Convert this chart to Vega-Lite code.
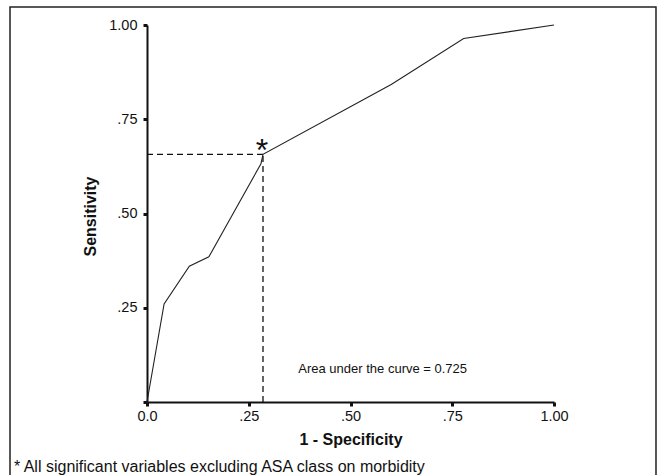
{
  "$schema": "https://vega.github.io/schema/vega-lite/v6.json",
  "width": 407,
  "height": 377,
  "autosize": {"type": "none"},
  "padding": {"left": 147, "top": 25, "right": 105, "bottom": 73},
  "background": "white",
  "config": {
    "view": {"stroke": null},
    "font": "Liberation Sans",
    "axis": {
      "grid": false,
      "domainColor": "#111111",
      "domainWidth": 2,
      "tickColor": "#111111",
      "tickWidth": 3,
      "tickSize": 4,
      "labelColor": "#111111",
      "labelFont": "Liberation Sans",
      "labelFontSize": 14.5,
      "labelFlush": false,
      "labelOverlap": false,
      "titleColor": "#111111",
      "titleFont": "Liberation Sans",
      "titleFontSize": 16,
      "titleFontWeight": "bold"
    }
  },
  "datasets": {
    "roc": [
      {"x": 0, "y": 0},
      {"x": 0.042, "y": 0.26},
      {"x": 0.104, "y": 0.36},
      {"x": 0.152, "y": 0.385},
      {"x": 0.28, "y": 0.632},
      {"x": 0.285, "y": 0.657},
      {"x": 0.6, "y": 0.842},
      {"x": 0.778, "y": 0.964},
      {"x": 1, "y": 1}
    ],
    "cutoff": [
      {"x": 0, "x2": 0.285, "y": 0.657, "y2": 0.657},
      {"x": 0.285, "x2": 0.285, "y": 0, "y2": 0.657}
    ],
    "star": [{"x": 0.285, "y": 0.657, "label": "*"}],
    "frame": [{"x": -0.3366, "x2": 1.2506, "y": -0.25, "y2": 1.0477}],
    "notes": [
      {"x": 0.3717, "y": 0.077, "label": "Area under the curve = 0.725"}
    ],
    "footnote": [
      {"x": -0.327, "y": -0.1857, "label": "* All significant variables excluding ASA class on morbidity"}
    ]
  },
  "layer": [
    {
      "data": {"name": "frame"},
      "mark": {"type": "rect", "fill": null, "stroke": "#222222", "strokeWidth": 1.5},
      "encoding": {
        "x": {"field": "x", "type": "quantitative", "scale": {"domain": [0, 1], "nice": false, "zero": false},
          "axis": {"title": "1 - Specificity", "values": [0, 0.25, 0.5, 0.75, 1],
            "labelExpr": "datum.value == 0 ? '0.0' : (datum.value == 1 ? '1.00' : replace(format(datum.value, '.2f'), '0.', '.'))",
            "labelPadding": 3, "titleBaseline": "alphabetic", "titleY": 42, "titleX": 203.5, "titleAlign": "center"}},
        "x2": {"field": "x2"},
        "y": {"field": "y", "type": "quantitative", "scale": {"domain": [0, 1], "nice": false, "zero": false},
          "axis": {"title": "Sensitivity", "values": [0, 0.25, 0.5, 0.75, 1],
            "labelExpr": "datum.value == 0 ? '' : (datum.value == 1 ? '1.00' : replace(format(datum.value, '.2f'), '0.', '.'))",
            "labelPadding": 6, "titleBaseline": "alphabetic", "titleAngle": -90, "titleX": -52, "titleY": 191, "titleAlign": "center"}},
        "y2": {"field": "y2"}
      }
    },
    {
      "data": {"name": "cutoff"},
      "mark": {"type": "rule", "stroke": "#111111", "strokeWidth": 1.3, "strokeDash": [6, 4]},
      "encoding": {
        "x": {"field": "x", "type": "quantitative"},
        "x2": {"field": "x2"},
        "y": {"field": "y", "type": "quantitative"},
        "y2": {"field": "y2"}
      }
    },
    {
      "data": {"name": "roc"},
      "mark": {"type": "line", "stroke": "#222222", "strokeWidth": 1.1},
      "encoding": {
        "x": {"field": "x", "type": "quantitative"},
        "y": {"field": "y", "type": "quantitative"}
      }
    },
    {
      "data": {"name": "star"},
      "mark": {"type": "text", "fontSize": 32, "font": "Liberation Sans", "align": "center", "baseline": "alphabetic", "dy": 7, "dx": -1, "color": "#111111"},
      "encoding": {
        "x": {"field": "x", "type": "quantitative"},
        "y": {"field": "y", "type": "quantitative"},
        "text": {"field": "label"}
      }
    },
    {
      "data": {"name": "notes"},
      "mark": {"type": "text", "fontSize": 13, "font": "Liberation Sans", "align": "left", "baseline": "alphabetic", "color": "#111111"},
      "encoding": {
        "x": {"field": "x", "type": "quantitative"},
        "y": {"field": "y", "type": "quantitative"},
        "text": {"field": "label"}
      }
    },
    {
      "data": {"name": "footnote"},
      "mark": {"type": "text", "fontSize": 16, "font": "Liberation Sans", "align": "left", "baseline": "alphabetic", "color": "#111111"},
      "encoding": {
        "x": {"field": "x", "type": "quantitative"},
        "y": {"field": "y", "type": "quantitative"},
        "text": {"field": "label"}
      }
    }
  ]
}
